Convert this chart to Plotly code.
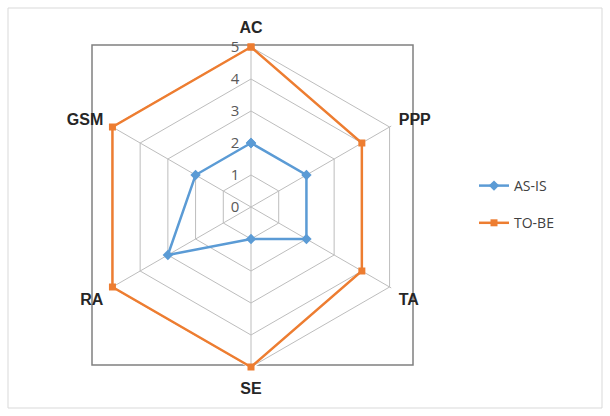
import plotly.graph_objects as go

categories = ["AC", "PPP", "TA", "SE", "RA", "GSM"]
as_is = [2, 2, 2, 1, 3, 2]
to_be = [5, 4, 4, 5, 5, 5]
radial_ticks = [0, 1, 2, 3, 4, 5]

W, H = 610, 416
RMAX = 5.06

fig = go.Figure()
fig.add_trace(go.Scatterpolar(
    r=as_is + as_is[:1], theta=categories + categories[:1], name="AS-IS",
    mode="lines+markers", legendgroup="a", cliponaxis=False,
    line=dict(color="#5B9BD5", width=2.5),
    marker=dict(symbol="diamond", size=8, color="#5B9BD5"),
))
fig.add_trace(go.Scatterpolar(
    r=to_be + to_be[:1], theta=categories + categories[:1], name="TO-BE",
    mode="lines+markers", legendgroup="b", cliponaxis=False,
    line=dict(color="#ED7D31", width=2.5),
    marker=dict(symbol="square", size=7, color="#ED7D31"),
))

cx, cy = 251, 207
R = 160 * RMAX / 5
fig.update_layout(
    width=W, height=H,
    margin=dict(l=0, r=0, t=0, b=0),
    paper_bgcolor="white",
    font=dict(family="Open Sans, Liberation Sans, sans-serif", color="#404040"),
    polar=dict(
        domain=dict(x=[(cx - R) / W, (cx + R) / W], y=[1 - (cy + R) / H, 1 - (cy - R) / H]),
        gridshape="linear",
        bgcolor="white",
        radialaxis=dict(
            range=[0, RMAX], tickvals=radial_ticks, angle=90, tickangle=90,
            side="counterclockwise",
            showline=False, gridcolor="#BDBDBD", gridwidth=1,
            ticks="outside", ticklen=6, tickcolor="rgba(0,0,0,0)",
            tickfont=dict(size=15, color="#595959"),
        ),
        angularaxis=dict(
            rotation=90, direction="clockwise",
            showline=False,
            gridcolor="#BDBDBD",
            ticks="outside", ticklen=5, tickcolor="rgba(0,0,0,0)",
            tickfont=dict(size=16, color="#262626", family="Liberation Sans, Arial, sans-serif", weight="bold"),
        ),
    ),
    legend=dict(
        x=474 / W, y=1 - 170 / H, xanchor="left", yanchor="top",
        font=dict(size=14, color="#404040"),
        tracegroupgap=16, bgcolor="rgba(0,0,0,0)",
    ),
    shapes=[
        dict(type="rect", xref="paper", yref="paper",
             x0=92 / W, x1=413 / W, y0=1 - 365 / H, y1=1 - 45 / H,
             line=dict(color="#808080", width=1.5), layer="below"),
        dict(type="rect", xref="paper", yref="paper",
             x0=8 / W, x1=602 / W, y0=1 - 408 / H, y1=1 - 8 / H,
             line=dict(color="#D9D9D9", width=1), layer="below"),
    ],
)

fig.write_html("out.html")
